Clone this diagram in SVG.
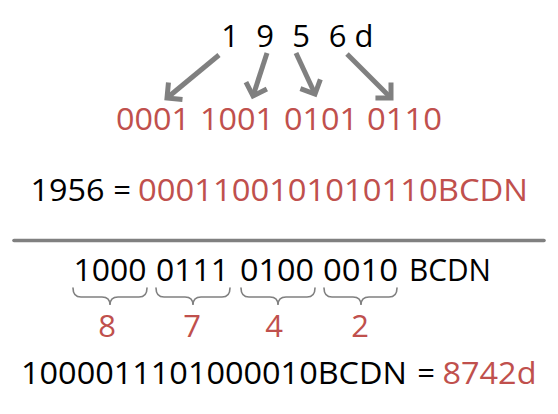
<svg xmlns="http://www.w3.org/2000/svg" width="558" height="414" viewBox="0 0 558 414">
<style>
text{font-family:"Open Sans","Noto Sans","Liberation Sans",sans-serif;font-size:31px;text-anchor:middle}
.k{fill:#000}
.r{fill:#c0504d}
.arr{stroke:#808080;stroke-width:5;fill:none;marker-end:url(#head)}
.brace{stroke:#808080;stroke-width:1.6;fill:none;stroke-linecap:round}
</style>
<defs>
<marker id="head" markerUnits="userSpaceOnUse" markerWidth="30" markerHeight="30" viewBox="-15 -15 30 30" refX="0" refY="0" orient="auto" overflow="visible">
<path d="M-11,-11 L0,0 L-11,11" fill="none" stroke="#808080" stroke-width="5" stroke-linejoin="miter"/>
</marker>
</defs>
<rect width="558" height="414" fill="#fff"/>
<g id="decimal">
<text class="k" x="230" y="47">1</text>
<text class="k" x="265" y="47">9</text>
<text class="k" x="301" y="47">5</text>
<text class="k" x="337.5" y="47">6</text>
<text class="k" x="364" y="47">d</text>
</g>
<g id="nibbles">
<text class="r" x="153" y="129.5" textLength="74" lengthAdjust="spacingAndGlyphs">0001</text>
<text class="r" x="237" y="129.5" textLength="74" lengthAdjust="spacingAndGlyphs">1001</text>
<text class="r" x="321" y="129.5" textLength="74" lengthAdjust="spacingAndGlyphs">0101</text>
<text class="r" x="404.5" y="129.5" textLength="75" lengthAdjust="spacingAndGlyphs">0110</text>
</g>
<g id="connectors">
<line class="arr" x1="219" y1="55" x2="167" y2="98"/>
<line class="arr" x1="267" y1="53" x2="253" y2="96"/>
<line class="arr" x1="296" y1="53" x2="315" y2="94"/>
<line class="arr" x1="347" y1="54" x2="391" y2="98"/>
</g>
<g id="result1">
<text class="k" x="67.5" y="201" textLength="74" lengthAdjust="spacingAndGlyphs">1956</text>
<text class="k" x="122" y="201">=</text>
<text class="r" x="333" y="201" textLength="390" lengthAdjust="spacingAndGlyphs">0001100101010110BCDN</text>
</g>
<g id="divider">
<line x1="14" y1="240.5" x2="544" y2="240.5" stroke="#808080" stroke-width="3.6" stroke-linecap="round"/>
</g>
<g id="bcd">
<text class="k" x="110" y="281" textLength="73" lengthAdjust="spacingAndGlyphs">1000</text>
<text class="k" x="192.5" y="281" textLength="73" lengthAdjust="spacingAndGlyphs">0111</text>
<text class="k" x="277" y="281" textLength="74" lengthAdjust="spacingAndGlyphs">0100</text>
<text class="k" x="360.5" y="281" textLength="75" lengthAdjust="spacingAndGlyphs">0010</text>
<text class="k" x="450" y="281" textLength="82" lengthAdjust="spacingAndGlyphs">BCDN</text>
</g>
<g id="braces">
<path class="brace" d="M73,288 Q73,297 81,297 L102,297 Q110,297 110,305 Q110,297 118,297 L139,297 Q147,297 147,288"/>
<path class="brace" d="M156,288 Q156,297 164,297 L185,297 Q193,297 193,305 Q193,297 201,297 L222,297 Q230,297 230,288"/>
<path class="brace" d="M241,288 Q241,297 249,297 L270,297 Q278,297 278,305 Q278,297 286,297 L307,297 Q315,297 315,288"/>
<path class="brace" d="M324,288 Q324,297 332,297 L353,297 Q361,297 361,305 Q361,297 369,297 L389,297 Q397,297 397,288"/>
</g>
<g id="digits">
<text class="r" x="107" y="337">8</text>
<text class="r" x="192" y="337">7</text>
<text class="r" x="274" y="337">4</text>
<text class="r" x="360" y="337">2</text>
</g>
<g id="result2">
<text class="k" x="214" y="384" textLength="386" lengthAdjust="spacingAndGlyphs">1000011101000010BCDN</text>
<text class="k" x="426" y="384">=</text>
<text class="r" x="489.5" y="384" textLength="94" lengthAdjust="spacingAndGlyphs">8742d</text>
</g>
</svg>
